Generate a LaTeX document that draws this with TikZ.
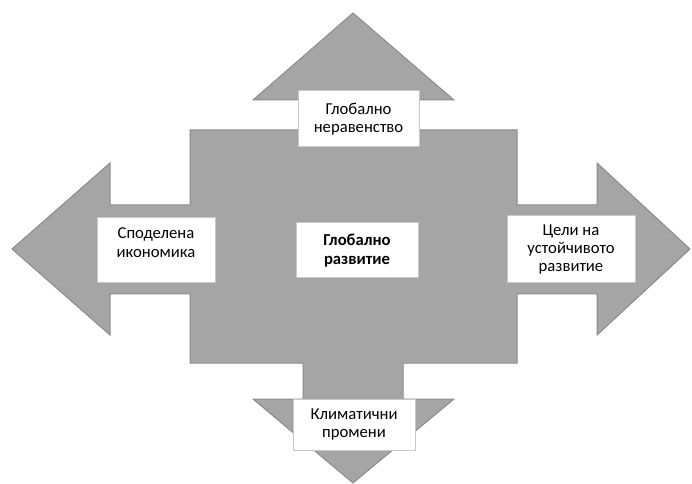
\documentclass[tikz,border=0pt]{standalone}
\usepackage{fontspec}
\setmainfont{Carlito}
\definecolor{arrowgray}{HTML}{A5A5A5}
\definecolor{edgegray}{HTML}{8C8C8C}
\definecolor{boxgray}{HTML}{C8C8C8}

\begin{document}
\begin{tikzpicture}[x=0.75pt, y=-0.75pt,
	labelbox/.style={draw=boxgray, line width=0.75pt, fill=white, align=center, inner sep=0pt,
		font=\fontsize{12.5}{13.8}\selectfont}]
			%%%%% START %%%%%
			
			\useasboundingbox (0, 0) rectangle (692, 484);
			
			\draw[fill=arrowgray, draw=edgegray, line width=0.75pt]
				(353, 13) -- (454, 100) -- (403, 100) -- (403, 130) -- (517, 130)
				-- (517, 205) -- (597, 205) -- (597, 163) -- (690, 249) -- (597, 335)
				-- (597, 294) -- (517, 294) -- (517, 363) -- (403, 363) -- (403, 399)
				-- (454, 399) -- (353, 483) -- (253, 399) -- (303, 399) -- (303, 363)
				-- (190, 363) -- (190, 294) -- (110, 294) -- (110, 335) -- (12, 249)
				-- (110, 163) -- (110, 205) -- (190, 205) -- (190, 130) -- (303, 130)
				-- (303, 100) -- (253, 100) -- cycle;
			
			\node[labelbox, minimum width=90.75pt, minimum height=42pt] (inequality) at (358.5, 119)
				{Глобално\\неравенство};
			\node[labelbox, minimum width=88.5pt, minimum height=48.75pt, text depth=12pt] (sharing) at (156, 250.5)
				{Споделена\\икономика};
			\node[labelbox, minimum width=96pt, minimum height=50.25pt] (goals) at (571, 249.5)
				{Цели на\\устойчивото\\развитие};
			\node[labelbox, minimum width=91.5pt, minimum height=38.25pt] (climate) at (354, 424.5)
				{Климатични\\промени};
			\node[labelbox, minimum width=91.5pt, minimum height=41.25pt, font=\fontsize{12.5}{13.8}\selectfont\bfseries] (global) at (357, 250.5)
				{Глобално\\развитие};
			
			%%%%% END %%%%%
\end{tikzpicture}
\end{document}
